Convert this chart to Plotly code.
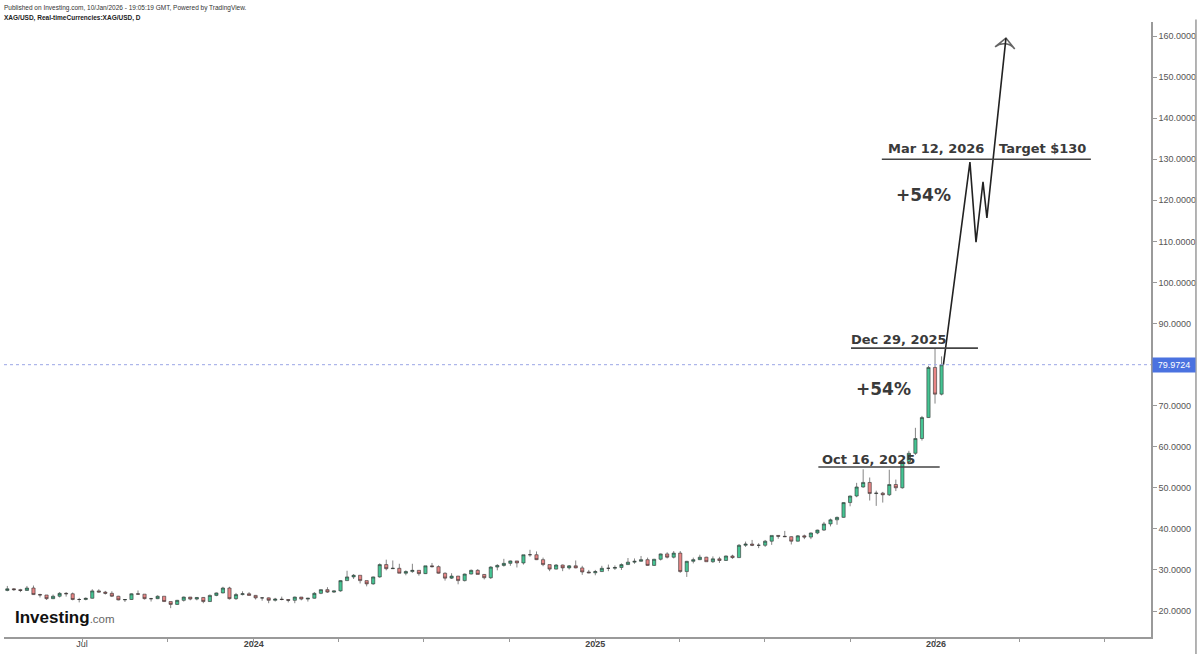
import plotly.graph_objects as go
import pandas as pd

# ---------------- data (weekly XAG/USD candles) ----------------
first_week = "2023-04-12"   # mid-week date of the first weekly candle

opens = [
    # 2023
    25.0, 25.4, 25.2, 25.0, 25.6, 24.0, 23.9, 23.0, 23.6, 24.3, 24.2, 22.8, 22.8, 23.1, 24.9, 24.6,
    24.3, 23.6, 22.7, 22.8, 24.2, 24.1, 23.0, 23.0, 23.6, 22.3, 21.6, 22.6, 23.4, 22.9, 23.3, 22.3,
    23.8, 24.4, 25.6, 23.0, 24.0, 24.2,
    # 2024
    23.8, 23.2, 23.2, 22.6, 22.9, 22.8, 22.6, 23.4, 22.9, 23.1, 24.3, 25.2, 24.6, 24.9, 27.4, 28.3,
    28.7, 27.4, 26.6, 28.3, 31.3, 30.3, 30.4, 29.2, 29.6, 29.9, 29.1, 31.0, 30.8, 29.2, 28.0, 28.5,
    27.4, 29.0, 29.9, 28.9, 28.1, 30.7, 31.1, 31.6, 32.2, 31.7, 33.7, 33.7, 32.5, 31.3, 30.2, 31.2,
    30.5, 31.0, 30.5, 29.5,
    # 2025
    29.3, 29.6, 30.4, 30.4, 30.6, 31.3, 31.9, 32.1, 32.5, 31.1, 32.6, 33.9, 33.1, 34.1, 29.6, 32.1,
    32.5, 33.1, 32.0, 32.7, 32.3, 33.4, 33.0, 36.0, 36.3, 36.0, 36.0, 37.0, 38.4, 38.2, 38.1, 37.0,
    38.3, 38.0, 39.0, 39.7, 41.2, 42.2, 42.8, 46.4, 48.0, 50.2, 51.3, 48.6, 48.7, 48.3, 50.8, 50.0,
    56.4, 58.4, 62.0, 67.1,
    # 2026
    79.3, 72.8,
]
highs = [
    26.1, 25.6, 25.4, 26.1, 26.2, 24.2, 23.9, 24.0, 24.6, 24.6, 24.5, 23.2, 23.3, 25.3, 25.3, 24.9,
    24.8, 23.7, 22.9, 24.3, 25.0, 24.1, 23.2, 23.8, 23.6, 22.3, 22.7, 23.5, 23.4, 23.4, 23.4, 24.0,
    24.5, 25.9, 25.9, 24.4, 24.8, 24.6,
    23.9, 23.3, 23.3, 23.2, 23.5, 22.9, 23.5, 23.4, 23.2, 24.6, 25.3, 25.8, 25.0, 27.5, 29.8, 29.0,
    28.7, 27.4, 28.4, 31.6, 32.5, 32.3, 31.5, 29.9, 31.5, 29.9, 31.0, 31.7, 31.1, 29.4, 29.2, 28.5,
    29.1, 30.1, 30.2, 29.0, 30.9, 31.4, 32.7, 32.3, 32.2, 33.7, 34.9, 34.5, 33.0, 31.3, 31.4, 31.3,
    31.2, 32.3, 31.0, 30.0,
    30.0, 31.0, 31.3, 31.1, 31.6, 32.9, 32.8, 33.4, 33.0, 32.7, 34.0, 34.3, 34.6, 34.6, 32.2, 33.0,
    33.7, 33.2, 33.3, 33.2, 33.5, 33.7, 36.3, 36.9, 37.3, 36.5, 37.3, 38.4, 38.5, 39.5, 38.2, 38.5,
    38.6, 39.1, 39.8, 41.7, 42.5, 43.0, 46.5, 48.1, 51.2, 54.5, 52.5, 49.3, 49.0, 54.4, 52.0, 56.5,
    59.0, 64.6, 67.5, 79.7,
    84.0, 82.0,
]
lows = [
    24.8, 24.9, 24.6, 24.9, 23.9, 23.3, 22.7, 22.9, 23.3, 23.5, 22.6, 22.1, 22.6, 23.0, 24.5, 24.0,
    23.4, 22.6, 22.2, 22.7, 24.0, 22.8, 22.3, 22.9, 22.2, 20.7, 21.5, 22.3, 22.6, 22.6, 21.9, 22.2,
    23.6, 24.3, 22.8, 22.7, 23.8, 23.8,
    22.8, 22.5, 21.9, 22.3, 22.6, 22.1, 21.9, 22.6, 22.3, 23.0, 24.1, 24.4, 24.4, 24.7, 27.3, 27.8,
    26.7, 26.0, 26.4, 28.1, 29.9, 30.3, 29.2, 28.7, 29.3, 28.6, 29.0, 30.6, 29.1, 27.4, 27.8, 26.5,
    27.2, 28.9, 28.9, 27.7, 27.8, 29.9, 30.8, 31.0, 30.6, 31.3, 33.2, 32.4, 30.9, 29.7, 30.1, 29.7,
    30.1, 30.4, 28.8, 29.2,
    28.7, 29.5, 29.7, 30.0, 30.0, 31.2, 31.5, 32.0, 31.0, 31.0, 32.3, 32.8, 32.8, 29.3, 28.3, 31.6,
    32.4, 32.0, 31.7, 31.7, 32.2, 32.7, 32.9, 35.6, 35.8, 35.3, 35.6, 36.1, 37.6, 38.0, 36.2, 36.9,
    37.5, 37.5, 38.7, 39.5, 40.6, 41.0, 42.7, 45.5, 47.7, 50.0, 46.9, 45.6, 46.4, 48.0, 49.2, 49.8,
    55.7, 58.0, 61.5, 67.0,
    70.5, 72.5,
]
closes = [
    25.4, 25.2, 25.0, 25.6, 24.0, 23.9, 23.0, 23.6, 24.3, 24.2, 22.8, 22.8, 23.1, 24.9, 24.6, 24.3,
    23.6, 22.7, 22.8, 24.2, 24.1, 23.0, 23.0, 23.6, 22.3, 21.6, 22.6, 23.4, 22.9, 23.3, 22.3, 23.8,
    24.4, 25.6, 23.0, 24.0, 24.2, 23.8,
    23.2, 23.2, 22.6, 22.9, 22.8, 22.6, 23.4, 22.9, 23.1, 24.3, 25.2, 24.6, 24.9, 27.4, 28.3, 28.7,
    27.4, 26.6, 28.3, 31.3, 30.3, 30.4, 29.2, 29.6, 29.9, 29.1, 31.0, 30.8, 29.2, 28.0, 28.5, 27.4,
    29.0, 29.9, 28.9, 28.1, 30.7, 31.1, 31.6, 32.2, 31.7, 33.7, 33.7, 32.5, 31.3, 30.2, 31.2, 30.5,
    31.0, 30.5, 29.5, 29.3,
    29.6, 30.4, 30.4, 30.6, 31.3, 31.9, 32.1, 32.5, 31.1, 32.6, 33.9, 33.1, 34.1, 29.6, 32.1, 32.5,
    33.1, 32.0, 32.7, 32.3, 33.4, 33.0, 36.0, 36.3, 36.0, 36.0, 37.0, 38.4, 38.2, 38.1, 37.0, 38.3,
    38.0, 39.0, 39.7, 41.2, 42.2, 42.8, 46.4, 48.0, 50.2, 51.3, 48.6, 48.7, 48.3, 50.8, 50.0, 56.4,
    58.4, 62.0, 67.1, 79.3,
    72.8, 79.9724,
]

last_price = 79.9724

# projected path drawn on the chart
proj_dates = ["2026-01-09", "2026-02-06 10:00", "2026-02-12 22:00",
              "2026-02-20 10:00", "2026-02-24 14:00", "2026-03-17"]
proj_values = [79.97, 129.3, 109.8, 124.5, 115.7, 159.5]

# horizontal reference levels
level_values = [55.06, 84.0, 130.0]
level_starts = ["2025-08-28", "2025-10-02", "2025-11-04"]
level_ends = ["2026-01-05", "2026-02-15", "2026-06-16"]

label_texts = ["Oct 16, 2025", "Dec 29, 2025", "Mar 12, 2026", "Target $130"]
label_dates = ["2025-10-21", "2025-11-22", "2026-01-01", "2026-04-25"]
label_values = [57.0, 86.2, 132.5, 132.5]

pct_texts = ["+54%", "+54%"]
pct_dates = ["2025-11-06", "2025-12-19"]
pct_values = [74.05, 121.3]

ytick_vals = list(range(20, 161, 10))
xtick_dates = ["2023-07-01", "2023-10-01", "2024-01-01", "2024-04-01", "2024-07-01",
               "2024-10-01", "2025-01-01", "2025-04-01", "2025-07-01", "2025-10-01",
               "2026-01-01", "2026-04-01", "2026-07-01"]
xtick_text = ["Jul", "", "<b>2024</b>", "", "", "", "<b>2025</b>", "", "", "",
              "<b>2026</b>", "", ""]

dates = pd.date_range(first_week, periods=len(closes), freq="7D")

# ---------------- figure ----------------
fig = go.Figure()

fig.add_trace(go.Candlestick(
    x=dates, open=opens, high=highs, low=lows, close=closes,
    increasing=dict(fillcolor="#45c493", line=dict(color="#333333", width=0.6)),
    decreasing=dict(fillcolor="#e88585", line=dict(color="#333333", width=0.6)),
    whiskerwidth=0, showlegend=False, hoverinfo="skip",
))

fig.add_trace(go.Scatter(
    x=proj_dates, y=proj_values, mode="lines",
    line=dict(color="#222222", width=1.6), showlegend=False, hoverinfo="skip",
))
fig.add_trace(go.Scatter(
    x=proj_dates[-2:], y=proj_values[-2:], mode="markers",
    marker=dict(symbol="arrow-wide-open", size=[0, 14], angleref="previous",
                color="#222222", line=dict(color="#222222", width=1.6)),
    showlegend=False, hoverinfo="skip",
))

shapes = []
for v, x0, x1 in zip(level_values, level_starts, level_ends):
    shapes.append(dict(type="line", xref="x", yref="y", x0=x0, x1=x1, y0=v, y1=v,
                       line=dict(color="#444444", width=1.6)))
# last price dotted line
shapes.append(dict(type="line", xref="paper", yref="y", x0=0, x1=1, y0=last_price, y1=last_price,
                   line=dict(color="#9aa6e6", width=1, dash="dot")))
# outer right frame line
shapes.append(dict(type="line", xref="paper", yref="paper", x0=1.0392, x1=1.0392, y0=-0.03, y1=1.004,
                   line=dict(color="#9a9a9a", width=1.5)))

annotations = []
for t, d, v in zip(label_texts, label_dates, label_values):
    annotations.append(dict(x=d, y=v, xref="x", yref="y", text=f"<b>{t}</b>", showarrow=False,
                            font=dict(family="DejaVu Sans", size=13, color="#3a3a3a")))
for t, d, v in zip(pct_texts, pct_dates, pct_values):
    annotations.append(dict(x=d, y=v, xref="x", yref="y", text=f"<b>{t}</b>", showarrow=False,
                            font=dict(family="DejaVu Sans", size=17, color="#3a3a3a")))
# last price label
annotations.append(dict(x=1, y=last_price, xref="paper", yref="y", xanchor="left", xshift=1,
                        text=f"{last_price:.4f}", showarrow=False, bgcolor="#4a72e0",
                        width=40, height=12, borderpad=1,
                        font=dict(family="Liberation Sans, Arial", size=9, color="white")))
# header
annotations.append(dict(x=-0.0017, y=1.0235, xref="paper", yref="paper", xanchor="left", yanchor="middle",
                        text="Published on Investing.com, 10/Jan/2026 - 19:05:19 GMT, Powered by TradingView.",
                        showarrow=False, font=dict(family="Liberation Sans, Arial", size=6.5, color="#333")))
annotations.append(dict(x=-0.0017, y=1.007, xref="paper", yref="paper", xanchor="left", yanchor="middle",
                        text="<b>XAG/USD, Real-timeCurrencies:XAG/USD, D</b>",
                        showarrow=False, font=dict(family="Liberation Sans, Arial", size=6.5, color="#222")))
# logo
annotations.append(dict(x=0.0075, y=0.031, xref="paper", yref="paper", xanchor="left", yanchor="middle",
                        text="<b>Investing</b><span style='color:#666;font-size:11.5px'>.com</span>",
                        showarrow=False, font=dict(family="Liberation Sans, Arial", size=17, color="#111")))

fig.update_layout(
    width=1200, height=654,
    margin=dict(l=4, r=49, t=22, b=17, autoexpand=False),
    paper_bgcolor="white", plot_bgcolor="white",
    shapes=shapes, annotations=annotations,
    showlegend=False,
    xaxis=dict(
        type="date", range=["2023-04-08 10:00", "2026-08-19 10:00"],
        rangeslider=dict(visible=False), automargin=False,
        tickmode="array", tickvals=xtick_dates, ticktext=xtick_text,
        ticks="outside", ticklen=3, tickcolor="#999", tickwidth=1,
        ticklabelstandoff=-6,
        showline=True, linecolor="#9a9a9a", linewidth=1.5,
        showgrid=False, zeroline=False,
        tickfont=dict(family="Liberation Sans, Arial", size=9, color="#444"),
    ),
    yaxis=dict(
        side="right", range=[13.67, 163.41], automargin=False,
        tickmode="array", tickvals=ytick_vals, tickformat=".4f",
        ticks="outside", ticklen=4, tickcolor="#999", tickwidth=1,
        showline=True, linecolor="#9a9a9a", linewidth=1.5,
        showgrid=False, zeroline=False,
        tickfont=dict(family="Liberation Sans, Arial", size=9, color="#555"),
    ),
)

fig.write_html("out.html")
